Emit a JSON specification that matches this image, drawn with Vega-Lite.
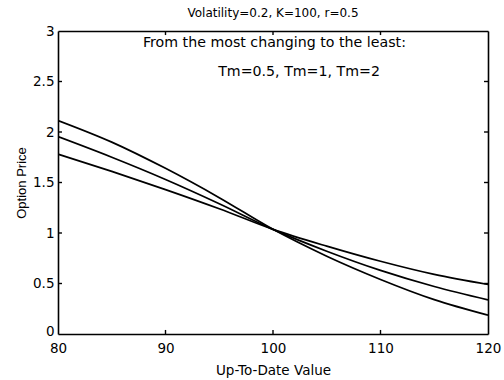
{
  "$schema": "https://vega.github.io/schema/vega-lite/v6.json",
  "autosize": "none",
  "width": 430,
  "height": 303,
  "padding": {"left": 58, "top": 31, "right": 16, "bottom": 46},
  "background": "white",
  "config": {
    "view": {"stroke": null},
    "font": "DejaVu Sans",
    "axis": {"labelFont": "DejaVu Sans", "titleFont": "DejaVu Sans", "labelColor": "black", "titleColor": "black", "domainColor": "black", "grid": false, "ticks": false, "labelFontSize": 13.5, "titleFontSize": 13.5, "titleFontWeight": "normal", "domainWidth": 1.6, "labelFlush": false, "labelBound": false}
  },
  "title": {"text": "Volatility=0.2, K=100, r=0.5", "fontSize": 12, "fontWeight": "normal", "font": "DejaVu Sans", "color": "black", "anchor": "middle", "offset": 4},
  "datasets": {
    "xticks": [{"v": 90}, {"v": 100}, {"v": 110}],
    "yticks": [{"v": 0.5}, {"v": 1}, {"v": 1.5}, {"v": 2}, {"v": 2.5}]
  },
  "layer": [
    {
      "data": {"values": [
        {"S": 80, "price": 2.114, "Tm": "0.5"},
        {"S": 85, "price": 1.90, "Tm": "0.5"},
        {"S": 90, "price": 1.64, "Tm": "0.5"},
        {"S": 95, "price": 1.35, "Tm": "0.5"},
        {"S": 100, "price": 1.036, "Tm": "0.5"},
        {"S": 105, "price": 0.77, "Tm": "0.5"},
        {"S": 110, "price": 0.54, "Tm": "0.5"},
        {"S": 115, "price": 0.34, "Tm": "0.5"},
        {"S": 120, "price": 0.186, "Tm": "0.5"},
        {"S": 80, "price": 1.954, "Tm": "1"},
        {"S": 85, "price": 1.75, "Tm": "1"},
        {"S": 90, "price": 1.53, "Tm": "1"},
        {"S": 95, "price": 1.29, "Tm": "1"},
        {"S": 100, "price": 1.036, "Tm": "1"},
        {"S": 105, "price": 0.82, "Tm": "1"},
        {"S": 110, "price": 0.63, "Tm": "1"},
        {"S": 115, "price": 0.47, "Tm": "1"},
        {"S": 120, "price": 0.337, "Tm": "1"},
        {"S": 80, "price": 1.78, "Tm": "2"},
        {"S": 85, "price": 1.61, "Tm": "2"},
        {"S": 90, "price": 1.43, "Tm": "2"},
        {"S": 95, "price": 1.24, "Tm": "2"},
        {"S": 100, "price": 1.036, "Tm": "2"},
        {"S": 105, "price": 0.87, "Tm": "2"},
        {"S": 110, "price": 0.72, "Tm": "2"},
        {"S": 115, "price": 0.59, "Tm": "2"},
        {"S": 120, "price": 0.49, "Tm": "2"}
      ]},
      "mark": {"type": "line", "color": "black", "strokeWidth": 1.7, "interpolate": "monotone", "clip": true},
      "encoding": {
        "x": {"field": "S", "type": "quantitative", "scale": {"domain": [80, 120], "nice": false, "zero": false},
              "axis": {"orient": "bottom", "values": [80, 90, 100, 110, 120], "title": "Up-To-Date Value", "labelPadding": 7, "titlePadding": 9}},
        "y": {"field": "price", "type": "quantitative", "scale": {"domain": [0, 3], "nice": false},
              "axis": {"orient": "left", "values": [0, 0.5, 1, 1.5, 2, 2.5, 3], "format": ".1~f", "title": "Option Price", "titleFont": "Liberation Sans", "titleFontSize": 13, "labelPadding": 4, "titlePadding": 4,
                       "labelOffset": {"condition": {"test": "datum.value === 0", "value": -3}, "value": 0}}},
        "detail": {"field": "Tm", "type": "nominal"}
      }
    },
    {
      "data": {"values": [
        {"S": 87.9, "price": 2.88, "label": "From the most changing to the least:"},
        {"S": 94.9, "price": 2.59, "label": "Tm=0.5, Tm=1, Tm=2"}
      ]},
      "mark": {"type": "text", "align": "left", "baseline": "middle", "fontSize": 14.2, "font": "DejaVu Sans", "color": "black"},
      "encoding": {
        "x": {"field": "S", "type": "quantitative", "axis": {"orient": "top", "labels": false, "title": null}},
        "y": {"field": "price", "type": "quantitative", "axis": {"orient": "right", "labels": false, "title": null}},
        "text": {"field": "label"}
      }
    },
    {
      "data": {"name": "xticks"},
      "mark": {"type": "rule", "color": "black", "strokeWidth": 1.4},
      "encoding": {
        "x": {"field": "v", "type": "quantitative", "axis": null},
        "y": {"datum": 0, "type": "quantitative", "axis": null},
        "y2": {"datum": 0.04}
      }
    },
    {
      "data": {"name": "xticks"},
      "mark": {"type": "rule", "color": "black", "strokeWidth": 1.4},
      "encoding": {
        "x": {"field": "v", "type": "quantitative", "axis": null},
        "y": {"datum": 3, "type": "quantitative", "axis": null},
        "y2": {"datum": 2.96}
      }
    },
    {
      "data": {"name": "yticks"},
      "mark": {"type": "rule", "color": "black", "strokeWidth": 1.4},
      "encoding": {
        "y": {"field": "v", "type": "quantitative", "axis": null},
        "x": {"datum": 80, "type": "quantitative", "axis": null},
        "x2": {"datum": 80.37}
      }
    },
    {
      "data": {"name": "yticks"},
      "mark": {"type": "rule", "color": "black", "strokeWidth": 1.4},
      "encoding": {
        "y": {"field": "v", "type": "quantitative", "axis": null},
        "x": {"datum": 120, "type": "quantitative", "axis": null},
        "x2": {"datum": 119.63}
      }
    }
  ],
  "resolve": {"axis": {"x": "independent", "y": "independent"}}
}
